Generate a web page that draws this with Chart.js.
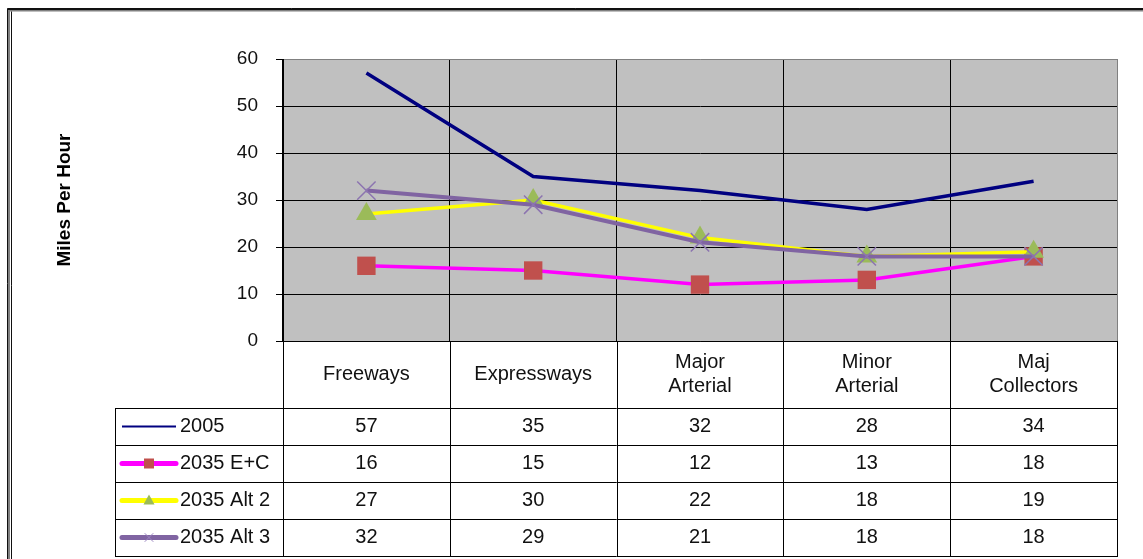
<!doctype html>
<html lang="en">
<head>
  <meta charset="utf-8">
  <title>Miles Per Hour by Facility Type</title>
  <script src="https://cdn.jsdelivr.net/npm/chart.js"></script>
  <style>
    html, body { margin: 0; background: #fff; overflow: hidden; }
    #wrap { position: relative; width: 1143px; height: 559px; }
  </style>
</head>
<body>
  <div id="wrap">
    <canvas id="speedChart"></canvas>
  </div>

  <script>
    var categories = ['Freeways', 'Expressways', ['Major', 'Arterial'], ['Minor', 'Arterial'], ['Maj', 'Collectors']];
    var seriesNames = ['2005', '2035 E+C', '2035 Alt 2', '2035 Alt 3'];
    var speed2005 = [57, 35, 32, 28, 34];
    var speedEC = [16, 15, 12, 13, 18];
    var speedAlt2 = [27, 30, 22, 18, 19];
    var speedAlt3 = [32, 29, 21, 18, 18];
    var yTicks = [0, 10, 20, 30, 40, 50, 60];

    var FONT = "'Liberation Sans', Arial, sans-serif";

    // legend keys drawn inside the table
    var keyStyles = [
      { line: '#000080', width: 2, marker: null },
      { line: '#FF00FF', width: 5, marker: 'rect', fill: '#C0504D' },
      { line: '#FFFF00', width: 5, marker: 'triangle', fill: '#9BBB59' },
      { line: '#8064A2', width: 5, marker: 'cross', fill: '#9B85C0' }
    ];

    function drawKey(ctx, k, x1, x2, y) {
      ctx.save();
      ctx.strokeStyle = k.line;
      ctx.lineWidth = k.width;
      ctx.lineCap = k.width > 2 ? 'round' : 'butt';
      ctx.beginPath();
      ctx.moveTo(x1, y);
      ctx.lineTo(x2, y);
      ctx.stroke();
      var cx = (x1 + x2) / 2;
      ctx.fillStyle = k.fill;
      if (k.marker === 'rect') {
        ctx.fillRect(cx - 5, y - 5, 10, 10);
      } else if (k.marker === 'triangle') {
        ctx.beginPath();
        ctx.moveTo(cx, y - 6);
        ctx.lineTo(cx + 5.5, y + 4);
        ctx.lineTo(cx - 5.5, y + 4);
        ctx.closePath();
        ctx.fill();
      } else if (k.marker === 'cross') {
        ctx.strokeStyle = k.fill;
        ctx.lineWidth = 1;
        ctx.beginPath();
        ctx.moveTo(cx - 4, y - 4); ctx.lineTo(cx + 4, y + 4);
        ctx.moveTo(cx + 4, y - 4); ctx.lineTo(cx - 4, y + 4);
        ctx.stroke();
      }
      ctx.restore();
    }

    // outer frame of the chart object (left and top edges only are in view)
    function drawFrame(chart) {
      var ctx = chart.ctx, w = chart.width, h = chart.height;
      ctx.save();
      ctx.strokeStyle = '#808080';
      ctx.lineWidth = 2;
      ctx.beginPath();
      ctx.moveTo(9, h); ctx.lineTo(9, 10.5); ctx.lineTo(w, 10.5);
      ctx.stroke();
      ctx.strokeStyle = '#111';
      ctx.lineWidth = 1;
      ctx.beginPath();
      ctx.moveTo(7.5, h); ctx.lineTo(7.5, 8.5); ctx.lineTo(w, 8.5);
      ctx.moveTo(11.5, h); ctx.lineTo(11.5, 11.5);
      ctx.stroke();
      ctx.lineWidth = 1.5;
      ctx.beginPath();
      ctx.moveTo(7.5, 9.3); ctx.lineTo(w, 9.3);
      ctx.stroke();
      ctx.restore();
    }

    var tablePlugin = {
      id: 'dataTable',
      beforeDraw: function(chart) {
        var a = chart.chartArea, ctx = chart.ctx;
        ctx.save();
        ctx.fillStyle = '#C0C0C0';
        ctx.fillRect(a.left, a.top, a.right - a.left, a.bottom - a.top);
        ctx.restore();
      },
      afterDraw: function(chart) {
        var ctx = chart.ctx, a = chart.chartArea, xs = chart.scales.x;
        var n = categories.length;
        var colW = (a.right - a.left) / n;
        var headH = 67, rowH = 37, legendLeft = 115;
        var top = a.bottom, bodyTop = top + headH;
        var bottom = bodyTop + rowH * seriesNames.length;

        ctx.save();
        ctx.strokeStyle = '#000';
        ctx.lineWidth = 1;
        ctx.beginPath();
        for (var i = 0; i <= n; i++) {
          var x = Math.round(a.left + i * colW) + 0.5;
          ctx.moveTo(x, top);
          ctx.lineTo(x, bottom);
        }
        ctx.moveTo(legendLeft + 0.5, bodyTop);
        ctx.lineTo(legendLeft + 0.5, bottom);
        for (var r = 0; r <= seriesNames.length; r++) {
          var y = Math.round(bodyTop + r * rowH) + 0.5;
          ctx.moveTo(legendLeft, y);
          ctx.lineTo(a.right + 1, y);
        }
        ctx.stroke();

        ctx.fillStyle = '#111';
        ctx.font = '20px ' + FONT;
        ctx.textAlign = 'center';
        ctx.textBaseline = 'middle';
        categories.forEach(function(c, i) {
          var lines = Array.isArray(c) ? c : [c];
          var lh = 24;
          var y0 = top + headH / 2 - (lines.length - 1) * lh / 2;
          lines.forEach(function(t, j) {
            ctx.fillText(t, xs.getPixelForValue(i), y0 + j * lh);
          });
        });

        chart.data.datasets.forEach(function(ds, r) {
          var cy = bodyTop + r * rowH + rowH / 2;
          drawKey(ctx, keyStyles[r], 122, 176, cy);
          ctx.fillStyle = '#111';
          ctx.textAlign = 'left';
          ctx.fillText(seriesNames[r], 180, cy);
          ctx.textAlign = 'center';
          ds.data.forEach(function(v, i) {
            ctx.fillText(String(v), xs.getPixelForValue(i), cy);
          });
        });
        ctx.restore();

        drawFrame(chart);
      }
    };

    var ctx = document.getElementById('speedChart').getContext('2d');
    var chart = new Chart(ctx, {
      type: 'line',
      data: {
        labels: categories,
        datasets: [{
          label: seriesNames[0],
          data: speed2005,
          borderColor: '#000080',
          borderWidth: 3.5,
          pointRadius: 0,
          order: 4
        }, {
          label: seriesNames[1],
          data: speedEC,
          borderColor: '#FF00FF',
          borderWidth: 3.5,
          pointStyle: 'rect',
          pointRadius: 13,
          pointBackgroundColor: '#C0504D',
          pointBorderColor: '#C0504D',
          pointBorderWidth: 0,
          order: 3
        }, {
          label: seriesNames[2],
          data: speedAlt2,
          borderColor: '#FFFF00',
          borderWidth: 3.5,
          pointStyle: 'triangle',
          pointRadius: 12,
          pointBackgroundColor: '#9BBB59',
          pointBorderColor: '#9BBB59',
          pointBorderWidth: 0,
          order: 2
        }, {
          label: seriesNames[3],
          data: speedAlt3,
          borderColor: '#8064A2',
          borderWidth: 4,
          pointStyle: 'crossRot',
          pointRadius: 13,
          pointBorderColor: '#8C74B0',
          pointBorderWidth: 1.5,
          order: 1
        }]
      },
      options: {
        responsive: true,
        maintainAspectRatio: false,
        animation: false,
        devicePixelRatio: 1,
        layout: { padding: { left: 30, top: 59, right: 26, bottom: 3 } },
        plugins: {
          legend: { display: false },
          tooltip: { enabled: false }
        },
        scales: {
          x: {
            offset: true,
            ticks: { display: false },
            grid: {
              offset: true,
              drawTicks: false,
              color: function(c) { return c.tick ? '#000' : '#808080'; }
            },
            border: { display: true, color: '#000' },
            afterFit: function(s) { s.height = 215; }
          },
          y: {
            min: yTicks[0],
            max: yTicks[yTicks.length - 1],
            ticks: {
              stepSize: yTicks[1] - yTicks[0],
              padding: 18,
              color: '#111',
              font: { family: FONT, size: 19 }
            },
            grid: {
              tickLength: 7,
              tickColor: '#000',
              color: function(c) { return c.tick && c.tick.value === yTicks[yTicks.length - 1] ? '#808080' : '#000'; }
            },
            border: { display: true, color: '#000' },
            title: {
              display: true,
              text: 'Miles Per Hour',
              color: '#000',
              font: { family: FONT, size: 19, weight: 'bold' },
              padding: { top: 23, bottom: 0 }
            },
            afterFit: function(s) { s.width = 253; }
          }
        }
      },
      plugins: [tablePlugin]
    });
  </script>
</body>
</html>
